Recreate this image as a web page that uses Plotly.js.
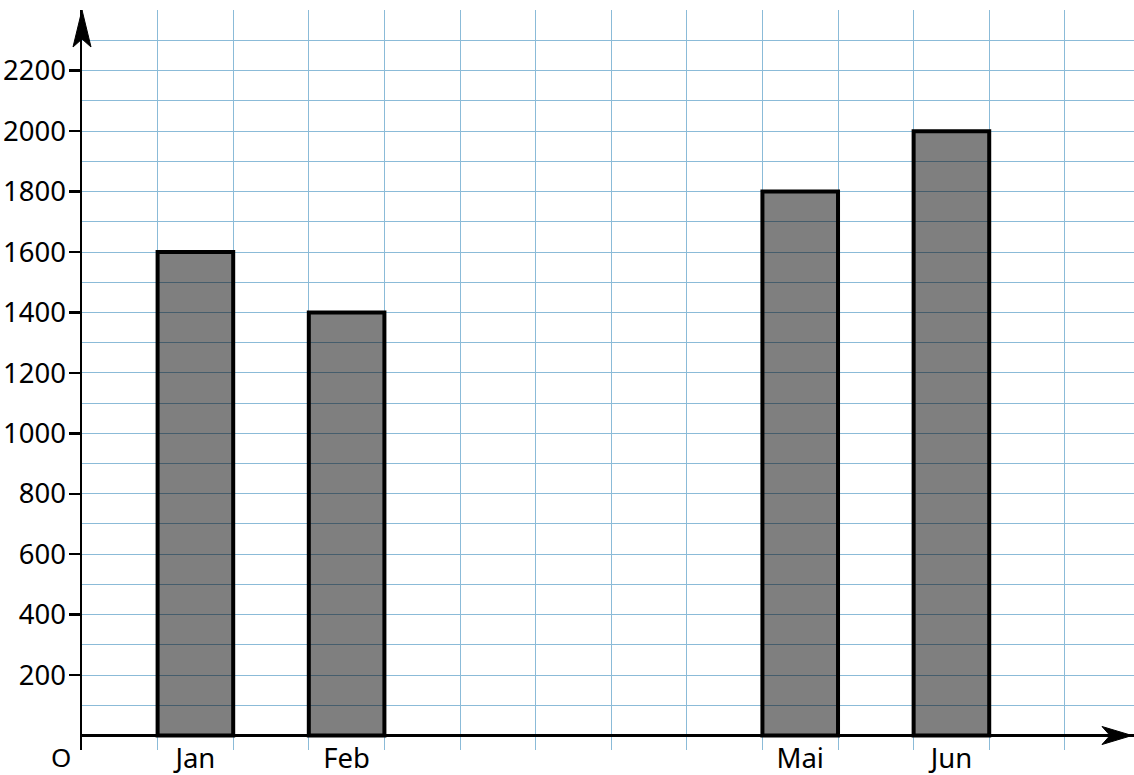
<!DOCTYPE html>
<html>
<head>
<meta charset="utf-8">
<script src="https://cdn.plot.ly/plotly-3.0.1.min.js"></script>
<style>html,body{margin:0;padding:0;background:#fff;}</style>
</head>
<body>
<div id="chart" style="width:1134px;height:775px;"></div>
<script>
// Data
const months = ["Jan", "Feb", "Mai", "Jun"];
const monthNumbers = [1, 2, 5, 6];
const values = [1600, 1400, 1800, 2000];
const yTickValues = [200, 400, 600, 800, 1000, 1200, 1400, 1600, 1800, 2000, 2200];

// each month occupies two grid units; bar sits in the second half-slot
const xPos = monthNumbers.map(m => 2 * m - 0.5);

const gridColor = "#8bbbd8";
const fontFamily = "Noto Sans, Open Sans, sans-serif";
const fontSize = 27.5;

const trace = {
  type: "bar",
  x: xPos,
  y: values,
  width: 1,
  marker: { color: "rgba(0,0,0,0.5)", line: { color: "#000", width: 4 } },
  hoverinfo: "skip"
};

const layout = {
  width: 1134,
  height: 775,
  margin: { l: 82, r: 0, t: 10, b: 25, pad: 0 },
  paper_bgcolor: "#fff",
  plot_bgcolor: "#fff",
  showlegend: false,
  font: { family: fontFamily, size: fontSize, color: "#000" },
  xaxis: {
    range: [0, 13.915],
    tickmode: "array",
    tickvals: xPos,
    ticktext: months,
    ticks: "",
    showgrid: false,
    zeroline: false,
    showline: false,
    ticklabelstandoff: -11,
    tickfont: { family: fontFamily, size: fontSize, color: "#000" },
    minor: { tick0: 0, dtick: 1, showgrid: true, gridcolor: gridColor, gridwidth: 1, ticks: "" },
    fixedrange: true
  },
  yaxis: {
    range: [-48, 2401],
    tickmode: "array",
    tickvals: yTickValues,
    ticks: "outside",
    ticklen: 11,
    tickwidth: 2.5,
    tickcolor: "#000",
    ticklabelstandoff: -3,
    showgrid: true,
    gridcolor: gridColor,
    gridwidth: 1,
    minor: { tick0: 0, dtick: 100, showgrid: true, gridcolor: gridColor, gridwidth: 1, ticks: "" },
    zeroline: true,
    zerolinecolor: "#000",
    zerolinewidth: 2.5,
    showline: true,
    linecolor: "#000",
    linewidth: 2.5,
    tickfont: { family: fontFamily, size: fontSize, color: "#000" },
    fixedrange: true
  },
  shapes: [
    {
      type: "path",
      xref: "paper", xsizemode: "pixel", xanchor: 0,
      yref: "paper", ysizemode: "pixel", yanchor: 1,
      path: "M0,0 L-9,-37 L0,-29 L9,-37 Z",
      fillcolor: "#000",
      line: { color: "#000", width: 1 }
    },
    {
      type: "path",
      xref: "paper", xsizemode: "pixel", xanchor: 1,
      yref: "y", ysizemode: "pixel", yanchor: 0,
      path: "M-2,0 L-32,9 L-24,0 L-32,-9 Z",
      fillcolor: "#000",
      line: { color: "#000", width: 1 }
    }
  ],
  annotations: [
    {
      text: "O",
      xref: "paper", x: 0, xanchor: "center", xshift: -21,
      yref: "y", y: 0, yanchor: "middle", yshift: -21,
      showarrow: false,
      font: { family: fontFamily, size: 26, color: "#000" }
    }
  ]
};

Plotly.newPlot("chart", [trace], layout, { displayModeBar: false, staticPlot: true });
</script>
</body>
</html>
